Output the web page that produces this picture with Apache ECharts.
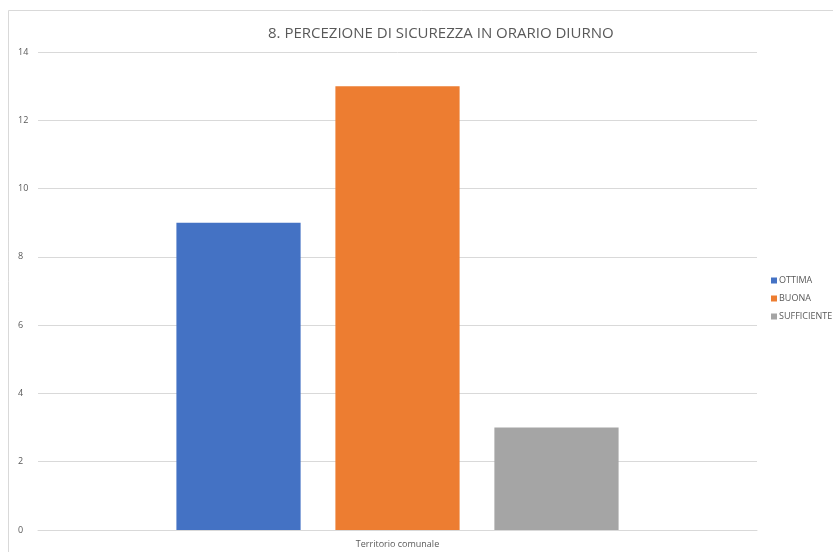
<!DOCTYPE html>
<html>
<head>
<meta charset="utf-8">
<script src="https://cdn.jsdelivr.net/npm/echarts@6/dist/echarts.min.js"></script>
<style>
  html, body { margin: 0; padding: 0; background: #fff; }
  #chart { width: 833px; height: 552px; }
</style>
</head>
<body>
<div id="chart"></div>
<script>
// Chart data
const titleText = '8. PERCEZIONE DI SICUREZZA IN ORARIO DIURNO';
const categories = ['Territorio comunale'];
const seriesNames = ['OTTIMA', 'BUONA', 'SUFFICIENTE'];
const ottimaValues = [9];
const buonaValues = [13];
const sufficienteValues = [3];
const seriesColors = ['#4472C4', '#ED7D31', '#A5A5A5'];
const yTicks = { min: 0, max: 14, interval: 2 };

const textColor = '#595959';
const fontFamily = '"Open Sans", "Liberation Sans", sans-serif';

const valueSets = [ottimaValues, buonaValues, sufficienteValues];

const chart = echarts.init(document.getElementById('chart'), null, { renderer: 'canvas' });

chart.setOption({
  backgroundColor: '#ffffff',
  animation: false,
  graphic: [{
    type: 'rect',
    shape: { x: 8.5, y: 10.5, width: 900, height: 600 },
    style: { fill: 'none', stroke: '#d9d9d9', lineWidth: 1 },
    silent: true
  }],
  title: {
    text: titleText,
    left: 263,
    top: 21,
    textStyle: { color: textColor, fontSize: 15, fontWeight: 'normal', fontFamily: fontFamily }
  },
  legend: {
    orient: 'vertical',
    left: 766,
    top: 271,
    itemWidth: 6,
    itemHeight: 6,
    itemGap: 9,
    icon: 'rect',
    data: seriesNames,
    textStyle: { color: textColor, fontSize: 9, fontFamily: fontFamily, padding: [0, 0, 0, -3] }
  },
  grid: { left: 38, right: 76, top: 52, bottom: 22, containLabel: false },
  xAxis: {
    type: 'category',
    data: categories,
    axisLine: { show: true, lineStyle: { color: '#d9d9d9' } },
    axisTick: { show: false },
    axisLabel: { color: textColor, fontSize: 9, fontFamily: fontFamily, margin: 10 }
  },
  yAxis: {
    type: 'value',
    min: yTicks.min,
    max: yTicks.max,
    interval: yTicks.interval,
    axisLine: { show: false },
    axisTick: { show: false },
    splitLine: { lineStyle: { color: '#d9d9d9', width: 1 } },
    axisLabel: { color: textColor, fontSize: 9, fontFamily: fontFamily, margin: 20, align: 'left' }
  },
  series: seriesNames.map((name, i) => ({
    name: name,
    type: 'bar',
    data: valueSets[i],
    barGap: '28%',
    barCategoryGap: '38.5%',
    itemStyle: { color: seriesColors[i] }
  }))
});
</script>
</body>
</html>
